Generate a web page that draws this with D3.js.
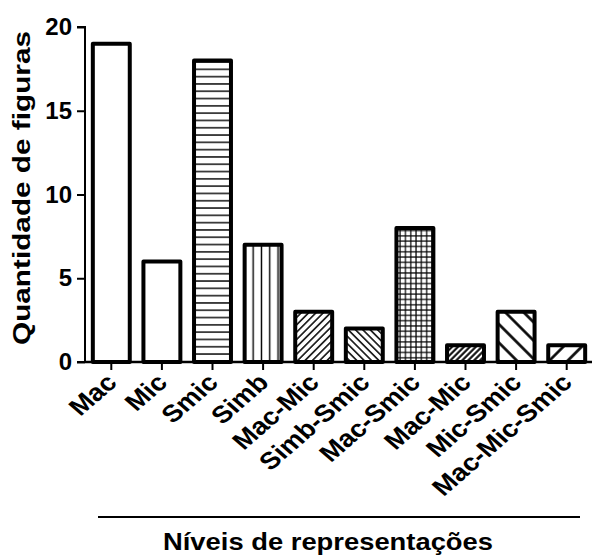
<!DOCTYPE html>
<html>
<head>
<meta charset="utf-8">
<script src="https://cdn.jsdelivr.net/npm/d3@7"></script>
<style>
  html, body { margin: 0; padding: 0; background: #fff; }
  svg { display: block; font-family: "Liberation Sans", Arial, sans-serif; font-weight: bold; }
</style>
</head>
<body>
<svg id="chart" width="598" height="556"></svg>
<script>
// Number of figures per representation level
const categories = ["Mac", "Mic", "Smic", "Simb", "Mac-Mic", "Simb-Smic", "Mac-Smic", "Mac-Mic", "Mic-Smic", "Mac-Mic-Smic"];
const counts = [19, 6, 18, 7, 3, 2, 8, 1, 3, 1];
const yTicks = [0, 5, 10, 15, 20];
const yTitle = "Quantidade de figuras";
const xTitle = "Níveis de representações";

const svg = d3.select("#chart");
const defs = svg.append("defs");

// Hatch fills, one per bar
function linePattern(id, spacing, width, angle, cross) {
  const p = defs.append("pattern")
    .attr("id", id)
    .attr("patternUnits", "userSpaceOnUse")
    .attr("width", spacing).attr("height", spacing)
    .attr("patternTransform", `rotate(${angle})`);
  p.append("rect").attr("width", spacing).attr("height", spacing).attr("fill", "#fff");
  p.append("line").attr("x1", spacing / 2).attr("x2", spacing / 2)
    .attr("y1", -1).attr("y2", spacing + 1)
    .attr("stroke", "#000").attr("stroke-width", width);
  if (cross) {
    p.append("line").attr("y1", spacing / 2).attr("y2", spacing / 2)
      .attr("x1", -1).attr("x2", spacing + 1)
      .attr("stroke", "#000").attr("stroke-width", width);
  }
}
linePattern("hl", 7.3, 1.4, 90, false);
linePattern("vl", 8.3, 1.4, 0, false);
linePattern("fwd", 5.2, 1.5, 45, false);
linePattern("back", 5.2, 1.5, -45, false);
linePattern("grid", 5.3, 1.2, 0, true);
linePattern("dense", 4.2, 2.0, 45, false);
linePattern("wideBack", 13, 2.6, -45, false);
linePattern("wideFwd", 13, 2.6, 45, false);
const fills = ["#fff", "#fff", "url(#hl)", "url(#vl)", "url(#fwd)", "url(#back)", "url(#grid)", "url(#dense)", "url(#wideBack)", "url(#wideFwd)"];

const plotLeft = 85, plotRight = 592, plotTop = 27, plotBottom = 362;

const x = d3.scaleBand()
  .domain(d3.range(categories.length))
  .range([plotLeft + 1, plotRight])
  .paddingInner(0.27)
  .paddingOuter(0.135);

const y = d3.scaleLinear().domain([0, 20]).range([plotBottom, plotTop]);

// Bars
svg.append("g").selectAll("rect")
  .data(counts)
  .join("rect")
  .attr("x", (d, i) => x(i))
  .attr("width", x.bandwidth())
  .attr("y", d => y(d))
  .attr("height", d => y(0) - y(d))
  .attr("fill", (d, i) => fills[i])
  .attr("stroke", "#000")
  .attr("stroke-width", 4)
  .attr("stroke-linejoin", "round");

// Y axis
const yAxis = svg.append("g")
  .attr("transform", `translate(${plotLeft},0)`)
  .call(d3.axisLeft(y).tickValues(yTicks).tickSize(8).tickPadding(5).tickFormat(d3.format("d")));
yAxis.select(".domain").attr("stroke-width", 2).attr("d", `M-8,${plotTop}H0V${plotBottom}H-8`);
yAxis.selectAll(".tick line").attr("stroke-width", 2);
yAxis.selectAll("text").attr("font-size", 24).attr("font-weight", "bold").attr("fill", "#000")
  .attr("font-family", "Liberation Sans, Arial, sans-serif");

// X axis
const xAxis = svg.append("g")
  .attr("transform", `translate(0,${plotBottom})`)
  .call(d3.axisBottom(x).tickSize(8).tickFormat(i => categories[i]));
xAxis.select(".domain").attr("stroke-width", 2.5).attr("d", `M${plotLeft},0H${plotRight}`);
xAxis.selectAll(".tick line").attr("stroke-width", 2);
xAxis.selectAll("text")
  .attr("font-size", 24).attr("font-weight", "bold").attr("fill", "#000")
  .attr("font-family", "Liberation Sans, Arial, sans-serif")
  .attr("text-anchor", "end")
  .attr("dy", null).attr("y", 0)
  .attr("transform", "translate(7,22) scale(1.15,1) rotate(-45)");

// Axis titles
svg.append("text")
  .attr("transform", `translate(30,188) rotate(-90)`)
  .attr("text-anchor", "middle")
  .attr("font-size", 24)
  .attr("textLength", 314).attr("lengthAdjust", "spacingAndGlyphs")
  .text(yTitle);

svg.append("line")
  .attr("x1", 98).attr("x2", 580).attr("y1", 517).attr("y2", 517)
  .attr("stroke", "#000").attr("stroke-width", 2);

svg.append("text")
  .attr("x", 328).attr("y", 550)
  .attr("text-anchor", "middle")
  .attr("font-size", 24)
  .attr("textLength", 330).attr("lengthAdjust", "spacingAndGlyphs")
  .text(xTitle);
</script>
</body>
</html>
